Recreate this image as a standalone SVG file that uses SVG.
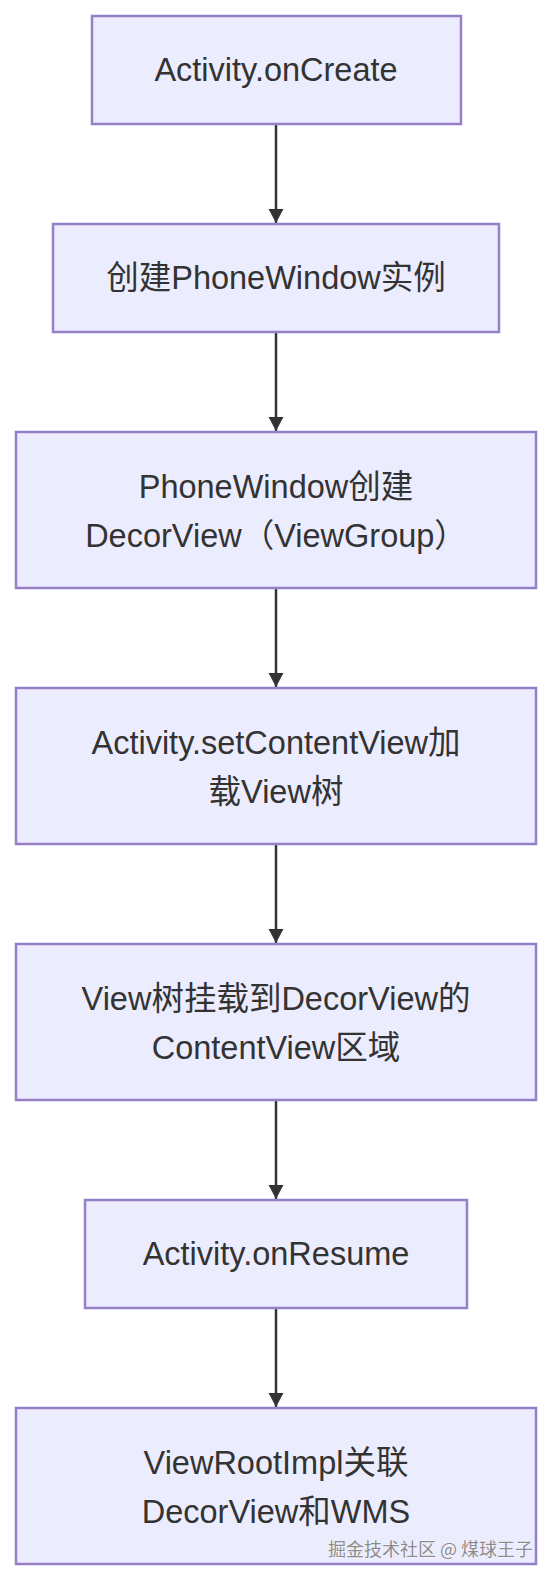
<svg xmlns="http://www.w3.org/2000/svg" width="552" height="1580" viewBox="0 0 552 1580">
<style>
.node rect{fill:#ECECFF;stroke:#9580C8;stroke-width:2.5}
.node text{font-family:"Liberation Sans","Noto Sans CJK SC",sans-serif;font-size:32.5px;fill:#333333;text-anchor:middle;dominant-baseline:central}
.edge{stroke:#333333;stroke-width:2.5;fill:none;marker-end:url(#arr)}
.wm{font-family:"Noto Sans CJK SC",sans-serif;font-size:18px;fill:#8c8c8c;stroke:#ffffff;stroke-width:0.6;paint-order:stroke}
</style>
<defs>
<marker id="arr" markerUnits="userSpaceOnUse" markerWidth="16" markerHeight="16" refX="14" refY="7.5" orient="auto">
<path d="M0,0 L14,7.5 L0,15 z" fill="#333333"/>
</marker>
</defs>
<rect width="552" height="1580" fill="#ffffff"/>
<g id="connectors">
<line class="edge" x1="276" y1="125" x2="276" y2="223"/>
<line class="edge" x1="276" y1="333" x2="276" y2="431"/>
<line class="edge" x1="276" y1="589" x2="276" y2="687"/>
<line class="edge" x1="276" y1="845" x2="276" y2="943"/>
<line class="edge" x1="276" y1="1101" x2="276" y2="1199"/>
<line class="edge" x1="276" y1="1309" x2="276" y2="1407"/>
</g>
<g id="n1" class="node"><rect x="92" y="16" width="369" height="108"/><text x="276" y="70">Activity.onCreate</text></g>
<g id="n2" class="node"><rect x="53" y="224" width="446" height="108"/><text x="276" y="278">创建PhoneWindow实例</text></g>
<g id="n3" class="node"><rect x="16" y="432" width="520" height="156"/><text x="276" y="487">PhoneWindow创建</text><text x="276" y="536">DecorView（ViewGroup）</text></g>
<g id="n4" class="node"><rect x="16" y="688" width="520" height="156"/><text x="276" y="743">Activity.setContentView加</text><text x="276" y="792">载View树</text></g>
<g id="n5" class="node"><rect x="16" y="944" width="520" height="156"/><text x="276" y="999">View树挂载到DecorView的</text><text x="276" y="1048">ContentView区域</text></g>
<g id="n6" class="node"><rect x="85" y="1200" width="382" height="108"/><text x="276" y="1254">Activity.onResume</text></g>
<g id="n7" class="node"><rect x="16" y="1408" width="520" height="156"/><text x="276" y="1463">ViewRootImpl关联</text><text x="276" y="1512">DecorView和WMS</text></g>
<text class="wm" x="533" y="1556" text-anchor="end">掘金技术社区 @ 煤球王子</text>
</svg>
